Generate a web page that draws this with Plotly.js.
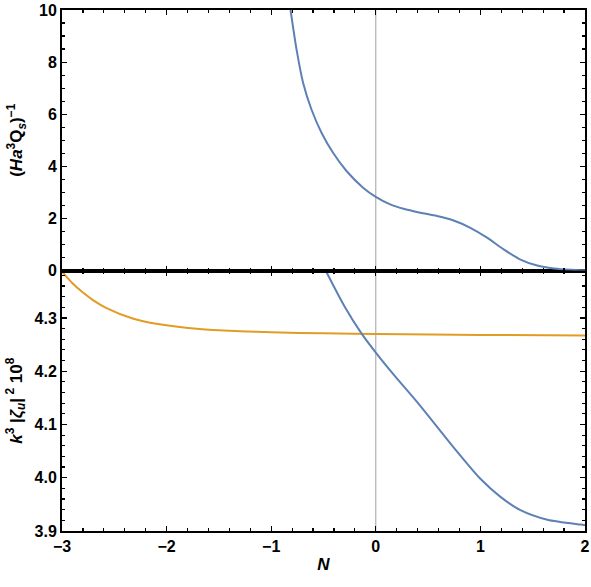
<!DOCTYPE html>
<html>
<head>
<meta charset="utf-8">
<script src="https://cdn.plot.ly/plotly-3.0.1.min.js"></script>
<style>
  html, body { margin: 0; padding: 0; background: #fff; }
  #chart { width: 591px; height: 587px; }
</style>
</head>
<body>
<div id="chart"></div>
<script>
// upper panel: (H a^3 Q_s)^-1 against N
const topN = [-0.815, -0.757, -0.694, -0.614, -0.518, -0.407, -0.278, -0.119, 0, 0.137, 0.265, 0.425, 0.585,
              0.744, 0.904, 1.064, 1.223, 1.383, 1.543, 1.703, 1.863, 2.0];
const topQ = [10, 8.47, 7.19, 6.17, 5.28, 4.51, 3.81, 3.17, 2.83, 2.54, 2.37, 2.22, 2.09,
              1.92, 1.64, 1.26, 0.81, 0.42, 0.19, 0.08, 0.03, 0.01];

// lower panel: k^3 |zeta_u|^2 10^8 against N (two curves)
const blueN = [-0.477, -0.30, -0.134, 0, 0.169, 0.425, 0.744, 1.0, 1.192, 1.383, 1.64, 1.96, 2.0];
const blueZ = [4.388, 4.322, 4.270, 4.235, 4.194, 4.135, 4.057, 3.998, 3.964, 3.939, 3.921, 3.912, 3.911];

const orangeN = [-3, -2.9, -2.803, -2.7, -2.579, -2.324, -2.068, -1.684, -1.3, -1.0, -0.5, 0, 1, 2];
const orangeZ = [4.387, 4.365, 4.348, 4.333, 4.319, 4.299, 4.288, 4.279, 4.275, 4.273, 4.271, 4.270, 4.268, 4.267];

const blue = "#5E81B5";
const orange = "#E19C24";

const traces = [
    {x: topN, y: topQ, xaxis: "x2", yaxis: "y", mode: "lines",
     line: {color: blue, width: 2, shape: "spline", smoothing: 0.8}},
    {x: orangeN, y: orangeZ, xaxis: "x", yaxis: "y2", mode: "lines",
     line: {color: orange, width: 2, shape: "spline", smoothing: 0.8}},
    {x: blueN, y: blueZ, xaxis: "x", yaxis: "y2", mode: "lines",
     line: {color: blue, width: 2, shape: "spline", smoothing: 0.8}}
];

const frame = {
    showline: true, linecolor: "#000", linewidth: 2, mirror: "ticks",
    ticks: "inside", ticklen: 5, tickwidth: 1.2, tickcolor: "#000",
    showgrid: false, zeroline: false,
    tickfont: {size: 16, weight: "bold"}
};

const layout = {
    width: 591,
    height: 587,
    margin: {l: 62, r: 6, t: 10, b: 56},
    paper_bgcolor: "#fff",
    plot_bgcolor: "#fff",
    showlegend: false,
    font: {family: "Liberation Sans, Arial, sans-serif", size: 16, color: "#000", weight: "bold"},
    xaxis: Object.assign({}, frame, {
        anchor: "y2", range: [-3, 2], dtick: 1,
        minor: {dtick: 0.2, ticklen: 3, tickcolor: "#000", ticks: "inside"},
        title: {text: "<i>N</i>", standoff: 4, font: {size: 17, weight: "bold"}}
    }),
    xaxis2: Object.assign({}, frame, {
        anchor: "y", matches: "x", range: [-3, 2], dtick: 1, showticklabels: false,
        minor: {dtick: 0.2, ticklen: 3, tickcolor: "#000", ticks: "inside"}
    }),
    yaxis: Object.assign({}, frame, {
        anchor: "x2", domain: [0.5, 1], range: [0, 10], dtick: 2,
        minor: {dtick: 0.5, ticklen: 3, tickcolor: "#000", ticks: "inside"},
        title: {text: "(<i>Ha</i><sup>3</sup>Q<sub><i>s</i></sub>)<sup>\u22121</sup>", standoff: 12,
                font: {size: 17, weight: "bold"}}
    }),
    yaxis2: Object.assign({}, frame, {
        anchor: "x", domain: [0, 0.5], range: [3.9, 4.389], tick0: 3.9, dtick: 0.1, tickformat: ".1f",
        minor: {dtick: 0.02, ticklen: 3, tickcolor: "#000", ticks: "inside"},
        title: {text: "<i>k</i><sup>3</sup> |<i>\u03b6<sub>u</sub></i>|<sup> 2</sup> 10<sup>8</sup>", standoff: 8,
                font: {size: 17, weight: "bold"}}
    }),
    shapes: [
        {type: "line", xref: "x", yref: "paper", x0: 0, x1: 0, y0: 0, y1: 1,
         line: {color: "#a0a0a0", width: 1}, layer: "below"}
    ]
};

Plotly.newPlot("chart", traces, layout, {displayModeBar: false, staticPlot: true});
</script>
</body>
</html>
